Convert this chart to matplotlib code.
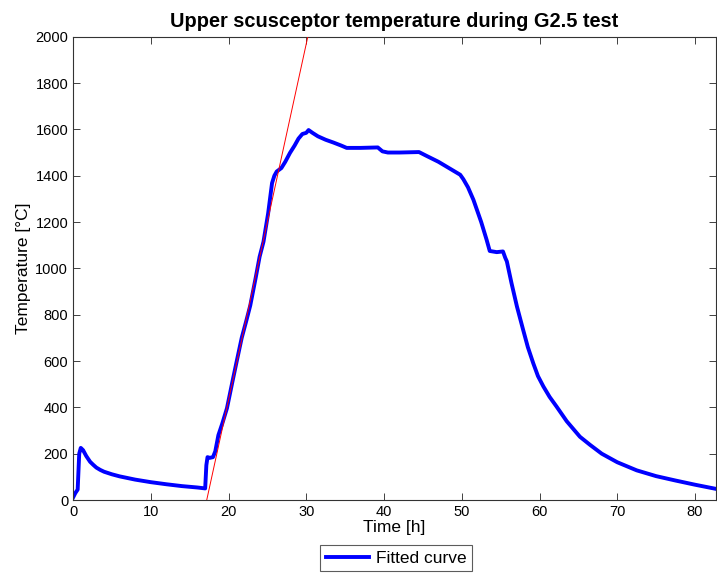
import numpy as np
import matplotlib
matplotlib.use("Agg")
import matplotlib.pyplot as plt

plt.rcParams['font.family'] = ['Liberation Sans', 'DejaVu Sans']

time_h = [0, 0.3, 0.6, 0.8, 1.0, 1.3, 1.7, 2.2, 2.6, 3, 3.5, 4, 5, 6, 8, 10, 12, 14, 16,
          17.0, 17.15, 17.3, 17.6, 18.0, 18.3, 18.7, 19.2, 19.8, 20.5, 21.0,
          21.7, 22.3, 22.8, 23.5, 24.0, 24.5, 25.1, 25.6, 25.9, 26.2, 26.8,
          27.3, 27.9, 28.5, 29.0, 29.5, 30.0, 30.3, 30.8, 31.5, 32.5, 33.5,
          34.5, 35.2, 37, 39.2, 39.8, 40.5, 42, 44.5, 45.5, 47, 48.5, 49.8,
          50.2, 50.8, 51.5, 52.5, 53.2, 53.6, 54.5, 55.3, 55.6, 55.8, 56.4,
          57.1, 57.9, 58.5, 59.2, 59.8, 60.5, 61.3, 62.2, 63.5, 65.2, 66.5,
          68.0, 70, 72.5, 75, 77.5, 80, 82.7]
temp_c = [10, 30, 45, 200, 225, 215, 190, 165, 152, 140, 130, 122, 111, 102, 88, 77, 68, 60, 54,
          50, 150, 185, 182, 185, 210, 280, 330, 396, 510, 590,
          700, 775, 840, 960, 1050, 1115, 1238, 1368, 1400, 1418, 1433,
          1460, 1498, 1530, 1560, 1580, 1585, 1597, 1585, 1570, 1555, 1543,
          1530, 1520, 1520, 1522, 1505, 1500, 1500, 1502, 1485, 1460, 1430, 1404,
          1385, 1350, 1296, 1200, 1123, 1075, 1070, 1073, 1045, 1030, 936,
          835, 734, 660, 590, 535, 490, 445, 403, 340, 273, 238,
          200, 163, 128, 103, 84, 66, 48]

# linear fit of the heating ramp (end points)
fit_t = [17.2, 30.2]
fit_c = [0, 2000]

fig = plt.figure(figsize=(7.17, 5.74), dpi=100)
ax = fig.add_axes([73/717, 1-500/574, (716-73)/717, (500-36.7)/574])

ax.plot(time_h, temp_c, color='#0000ff', lw=2.8, label='Fitted curve', zorder=2)
ax.plot(fit_t, fit_c, color='#ff0000', lw=0.7, zorder=3)

ax.set_xlim(0, 82.7)
ax.set_ylim(0, 2000)
ax.set_xticks(range(0, 81, 10))
ax.set_yticks(range(0, 2001, 200))
ax.tick_params(direction='in', top=True, right=True, length=5, width=0.6,
               labelsize=10.5, colors='#222222', labelcolor='black')
for s in ax.spines.values():
    s.set_linewidth(0.8)
    s.set_color('#333333')

ax.set_xlabel('Time [h]', fontsize=12.5, labelpad=1)
ax.set_ylabel('Temperature [°C]', fontsize=12.5, labelpad=3)
ax.set_title('Upper scusceptor temperature during G2.5 test', fontsize=14.4,
             fontweight='bold', pad=7)

leg = fig.legend(loc='center', bbox_to_anchor=(396/717, 1-558/574), fontsize=12.5,
                 fancybox=False, edgecolor='#333333', handlelength=2.5,
                 borderpad=0.3, handletextpad=0.4)
leg.get_frame().set_linewidth(0.8)

fig.savefig('out.png', dpi=100)
